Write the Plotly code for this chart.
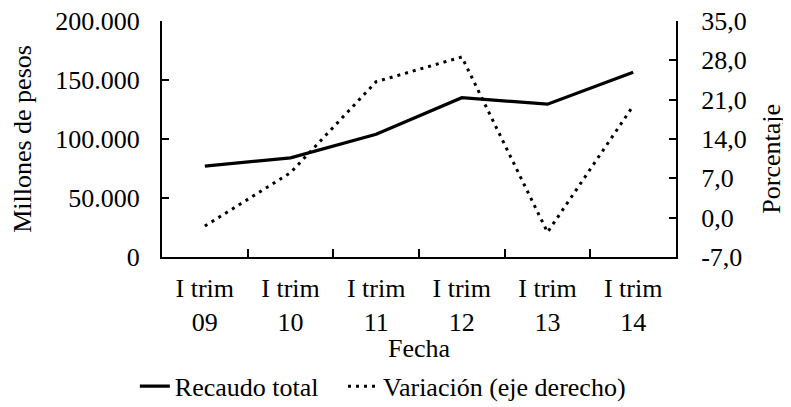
import plotly.graph_objects as go

categorias = ["I trim<br>09", "I trim<br>10", "I trim<br>11", "I trim<br>12", "I trim<br>13", "I trim<br>14"]
recaudo_total = [77000, 84000, 104000, 135000, 129500, 156500]
variacion = [-1.5, 8.0, 24.2, 28.6, -2.6, 19.9]

left_ticks = [0, 50000, 100000, 150000, 200000]
left_labels = ["0", "50.000", "100.000", "150.000", "200.000"]
right_ticks = [-7, 0, 7, 14, 21, 28, 35]
right_labels = ["-7,0", "0,0", "7,0", "14,0", "21,0", "28,0", "35,0"]

FONT = "Liberation Serif"
FS = 26
F = dict(family=FONT, size=FS, color="black")

fig = go.Figure()
fig.add_trace(go.Scatter(x=categorias, y=recaudo_total, name="Recaudo total\u00a0\u00a0\u00a0",
                         mode="lines", line=dict(color="black", width=3.2), yaxis="y"))
fig.add_trace(go.Scatter(x=categorias, y=variacion, name="Variación (eje derecho)",
                         mode="lines", line=dict(color="black", width=3, dash="3px,5px"), yaxis="y2"))

fig.update_layout(
    width=783, height=399,
    margin=dict(l=154, r=115, t=13, b=150, autoexpand=False),
    paper_bgcolor="white", plot_bgcolor="white",
    separators=",.",
    font=F,
    showlegend=True,
    legend=dict(orientation="h", xref="container", yref="container",
                x=0.162, xanchor="left", y=0.052, yanchor="middle",
                font=F, traceorder="normal", bgcolor="rgba(0,0,0,0)"),
    xaxis=dict(type="category", range=[-0.5, 5.5], showline=True, linecolor="black", linewidth=2,
               ticks="inside", tickson="boundaries", ticklen=8, tickwidth=2, tickcolor="black",
               tickfont=F, ticklabelstandoff=7, ticklabeloverflow="allow",
               showgrid=False, zeroline=False, automargin=False,
               title=dict(text="Fecha", standoff=9, font=F)),
    yaxis=dict(range=[0, 200000], tickvals=left_ticks, ticktext=left_labels,
               showline=True, linecolor="black", linewidth=2,
               ticks="inside", ticklen=7, tickwidth=2, tickcolor="black",
               tickfont=F, ticklabelstandoff=15, ticklabeloverflow="allow",
               showgrid=False, zeroline=False, automargin=False,
               title=dict(text="Millones de pesos", standoff=20, font=F)),
    yaxis2=dict(range=[-7, 35], tickvals=right_ticks, ticktext=right_labels,
                overlaying="y", side="right",
                showline=True, linecolor="black", linewidth=2,
                ticks="inside", ticklen=7, tickwidth=2, tickcolor="black",
                tickfont=F, ticklabelstandoff=18, ticklabeloverflow="allow",
                showgrid=False, zeroline=False, automargin=False),
    annotations=[dict(text="Porcentaje", xref="paper", yref="paper", x=1.184, y=0.415,
                      xanchor="center", yanchor="middle", textangle=-90, showarrow=False,
                      borderpad=0, font=F)],
)

fig.write_html("out.html")
